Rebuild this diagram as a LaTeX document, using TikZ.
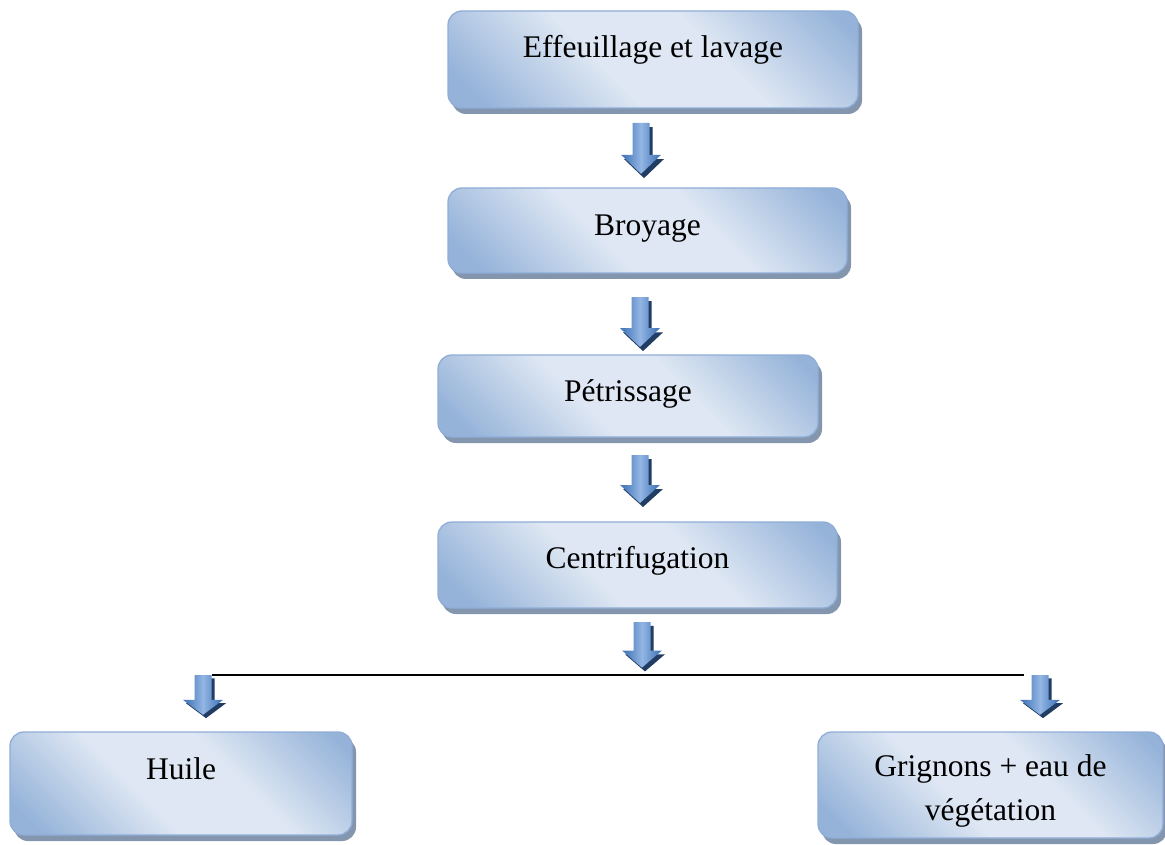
\documentclass[tikz,border=0pt]{standalone}
\usepackage{fontspec}
\setmainfont{Liberation Serif}
\usetikzlibrary{shadows}
\definecolor{bdark}{HTML}{95B3D9}
\definecolor{blight}{HTML}{DEE7F3}
\definecolor{bborder}{HTML}{8FADD8}
\definecolor{bshadow}{HTML}{8396AE}
\definecolor{adark}{HTML}{4A7CBB}
\definecolor{alight}{HTML}{93B6E4}
\definecolor{ashadow}{HTML}{213D63}
\pgfdeclarehorizontalshading{boxshade}{100bp}{color(0bp)=(bdark);color(20bp)=(bdark);color(42bp)=(blight);color(60bp)=(blight);color(82bp)=(bdark);color(100bp)=(bdark)}
\pgfdeclarehorizontalshading{arrowshade}{100bp}{color(0bp)=(adark);color(30bp)=(adark);color(50bp)=(alight);color(70bp)=(adark);color(100bp)=(adark)}
\tikzset{
  stepbox/.style={rectangle, rounded corners=14pt, draw=bborder, line width=1.3pt,
    shading=boxshade, shading angle=45, inner sep=0pt, align=center,
    font=\fontsize{31.5}{44}\selectfont, text height=22pt,
    drop shadow={shadow xshift=4pt, shadow yshift=-6pt, fill=bshadow, opacity=1}},
  downarrow/.pic={
    \fill[ashadow] (-5.5,4) -- (11.5,4) -- (11.5,34) -- (23,34) -- (3,52) -- (-17,34) -- (-5.5,34) -- cycle;
    \shade[shading=arrowshade] (-8.5,0) -- (8.5,0) -- (8.5,30) -- (20,30) -- (0,48) -- (-20,30) -- (-8.5,30) -- cycle;
  },
  joinline/.style={line width=1.8pt, black}
}
\begin{document}
\begin{tikzpicture}[x=1pt, y=-1pt]
\fill[white] (0,0) rectangle (1165,845);
\useasboundingbox (0,0) rectangle (1165,845);

\node[stepbox, minimum width=410pt, minimum height=97pt, text depth=25pt] (b1) at (653,59.5) {Effeuillage et lavage};
\node[stepbox, minimum width=399pt, minimum height=85pt, text depth=11pt] (b2) at (647.5,230.5) {Broyage};
\node[stepbox, minimum width=380pt, minimum height=82pt, text depth=12pt] (b3) at (628,396) {Pétrissage};
\node[stepbox, minimum width=399pt, minimum height=86pt, text depth=16pt] (b4) at (637.5,565) {Centrifugation};
\node[stepbox, minimum width=342pt, minimum height=103pt, text depth=31pt] (b5) at (181,783.5) {Huile};
\node[stepbox, minimum width=345pt, minimum height=106pt, text height=77pt, text depth=7pt] (b6) at (990.5,785) {Grignons + eau de\\végétation};

\coordinate (a1) at (641,123);
\coordinate (a2) at (640,297);
\coordinate (a3) at (640,455);
\coordinate (a4) at (642,622);
\coordinate (a5) at (203,675);
\coordinate (a6) at (1040,675);
\pic[yscale=1.06] at (a1) {downarrow};
\pic[yscale=1.04] at (a2) {downarrow};
\pic at (a3) {downarrow};
\pic[yscale=0.95] at (a4) {downarrow};
\pic[yscale=0.83] at (a5) {downarrow};
\pic[yscale=0.83] at (a6) {downarrow};

\coordinate (lineL) at (212,675);
\coordinate (lineR) at (1024,675);
\draw[joinline] (lineL) -- (lineR);
\end{tikzpicture}
\end{document}
